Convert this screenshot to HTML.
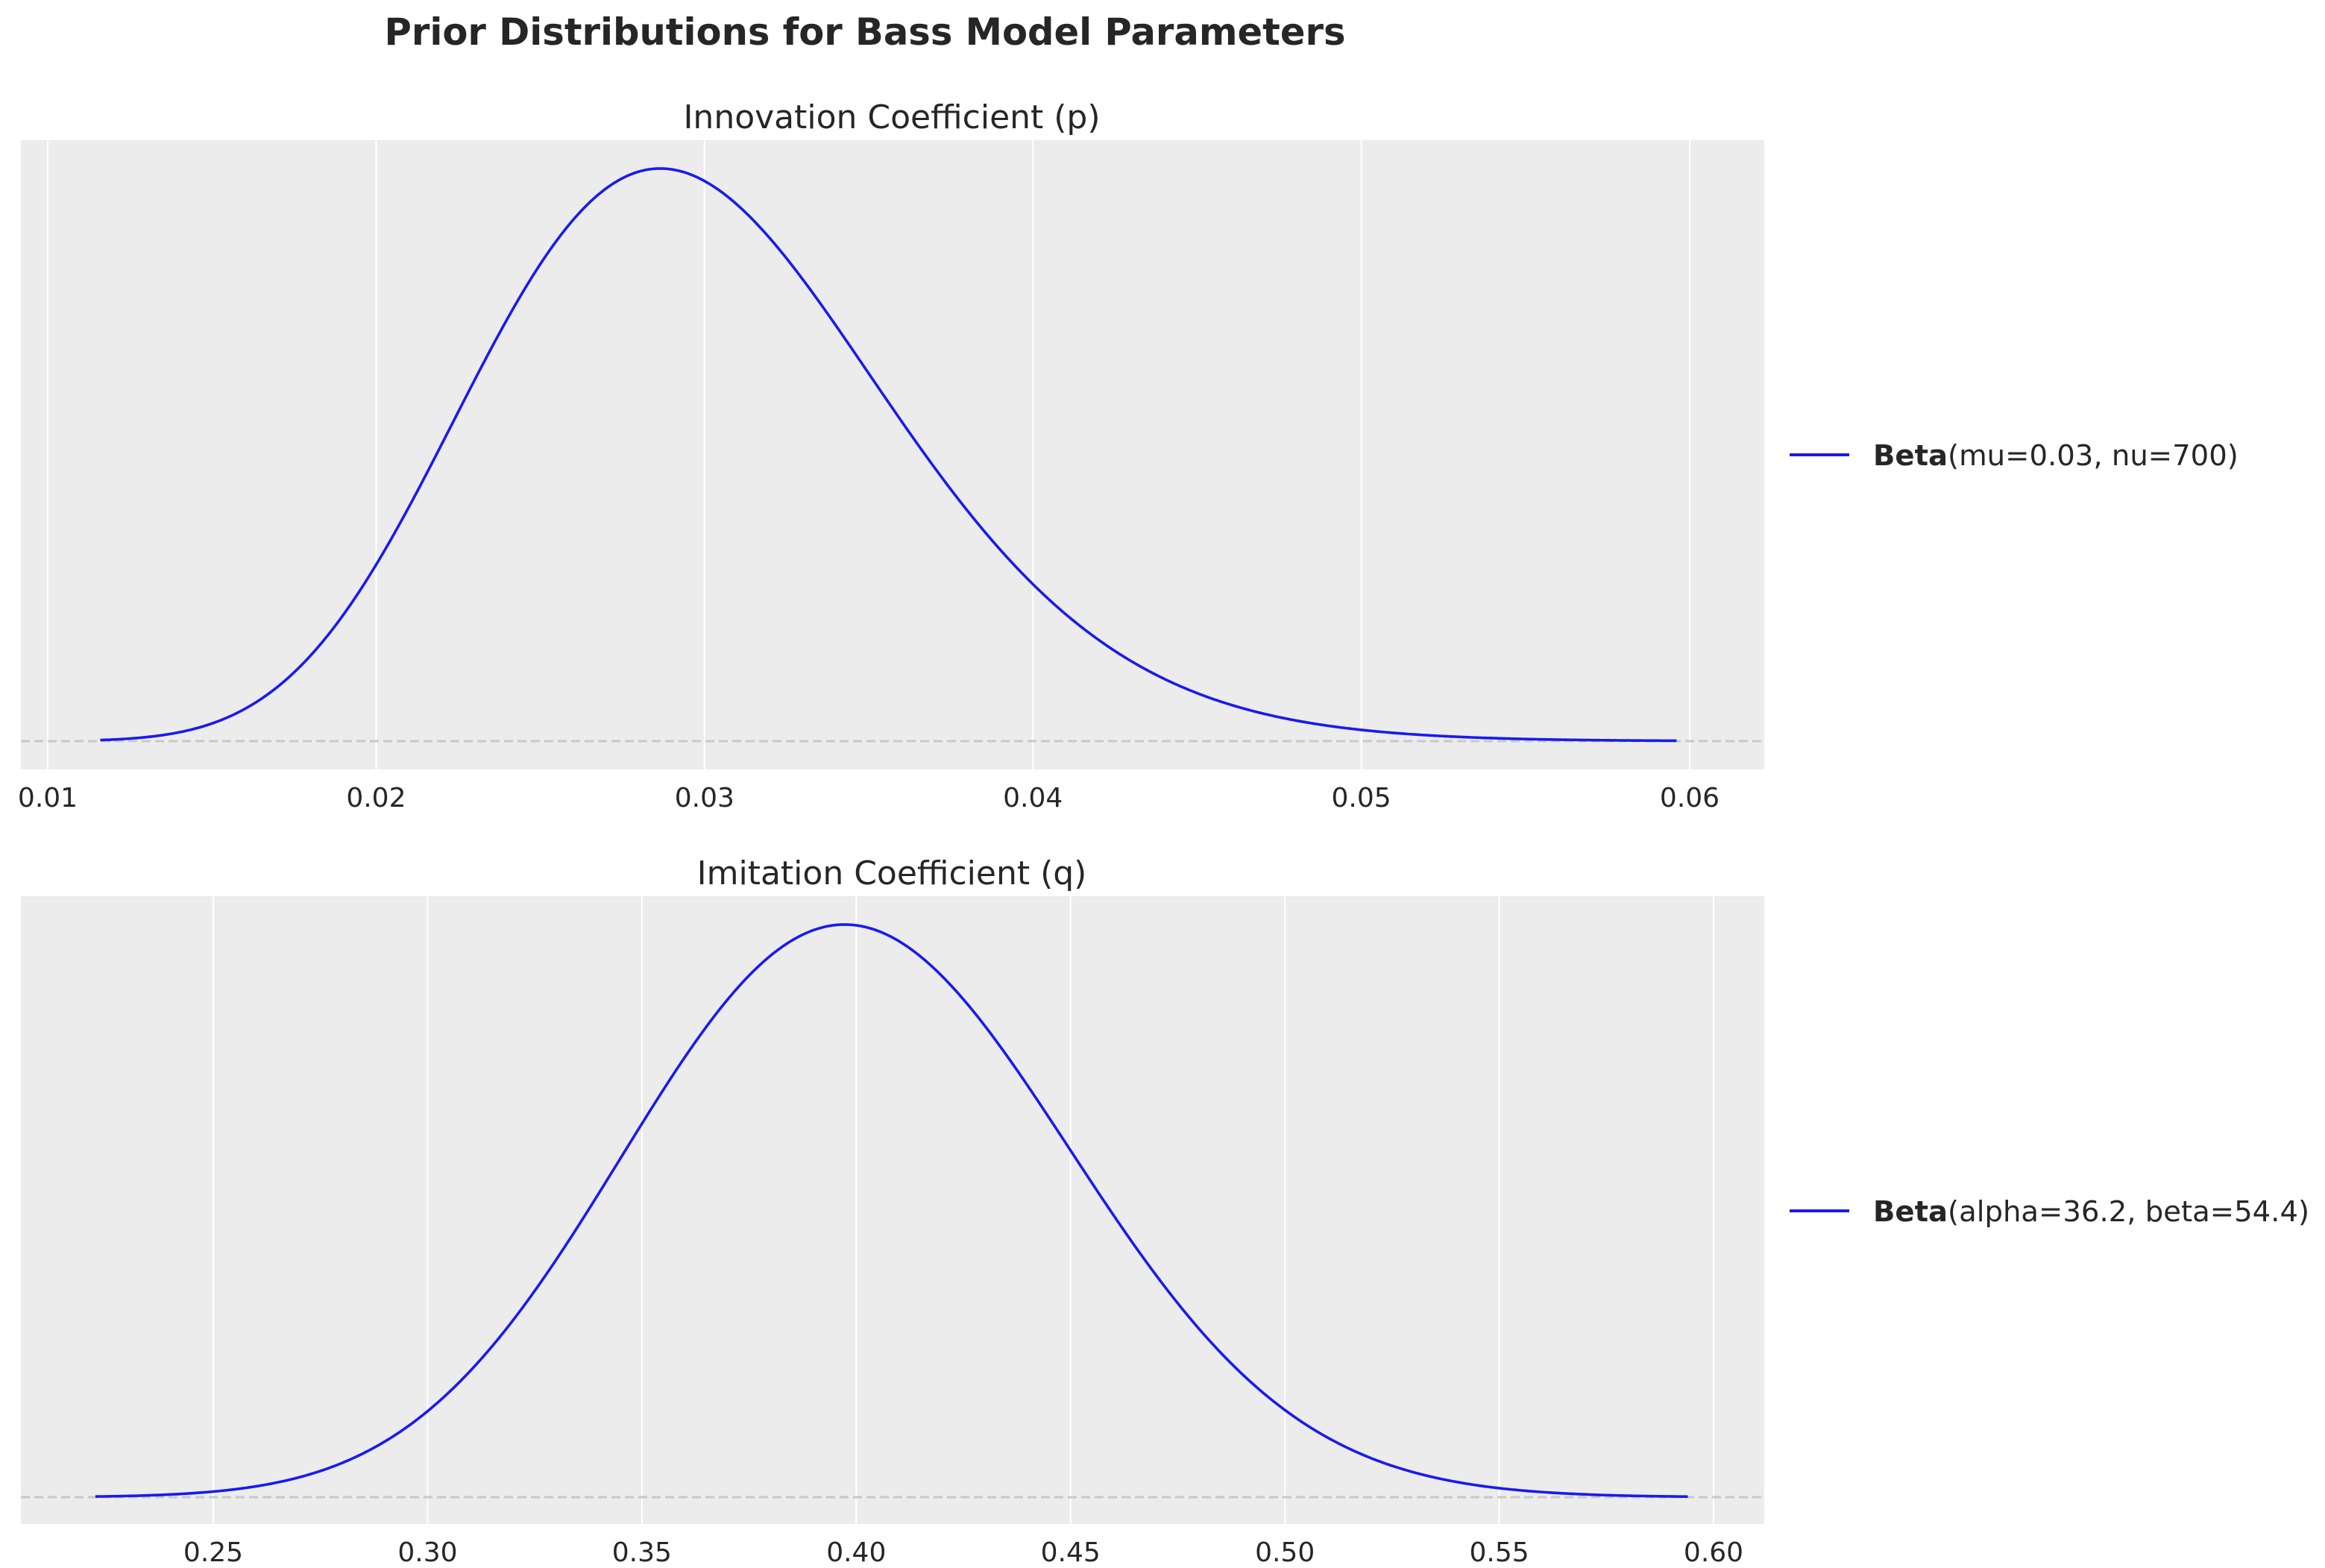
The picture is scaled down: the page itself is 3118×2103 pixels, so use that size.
<!DOCTYPE html>
<html><head><meta charset="utf-8"><style>
html,body{margin:0;padding:0;background:#fff}
svg{display:block}
text{font-family:"DejaVu Sans","Liberation Sans",sans-serif;fill:#262626}
</style></head><body>
<svg id="s" width="3118" height="2103" viewBox="0 0 1559 1051.5" xmlns="http://www.w3.org/2000/svg">
<text x="580" y="30" font-size="24.8" font-weight="bold" text-anchor="middle">Prior Distributions for Bass Model Parameters</text>
<rect x="14" y="94" width="1169" height="422" fill="#ececec"/>
<rect x="14" y="601" width="1169" height="421" fill="#ececec"/>
<text x="598" y="86" font-size="22" text-anchor="middle">Innovation Coefficient (p)</text>
<text x="598" y="593" font-size="22" text-anchor="middle">Imitation Coefficient (q)</text>
<g id="g1"></g><g id="g2"></g>
<line x1="14" x2="1183" y1="497" y2="497" stroke="#c8c8c8" stroke-width="1.5" stroke-dasharray="6,3"/>
<line x1="14" x2="1183" y1="1004" y2="1004" stroke="#c8c8c8" stroke-width="1.5" stroke-dasharray="6,3"/>
<path id="c1" fill="none" stroke="#1a1aee" stroke-width="1.8"/>
<path id="c2" fill="none" stroke="#1a1aee" stroke-width="1.8"/>
<line x1="1200" x2="1240" y1="305" y2="305" stroke="#1a1aee" stroke-width="2"/>
<text x="1256" y="312" font-size="19.3"><tspan font-weight="bold">Beta</tspan>(mu=0.03, nu=700)</text>
<line x1="1200" x2="1240" y1="812" y2="812" stroke="#1a1aee" stroke-width="2"/>
<text x="1256" y="819" font-size="19.3"><tspan font-weight="bold">Beta</tspan>(alpha=36.2, beta=54.4)</text>
</svg>
<script>
var NS="http://www.w3.org/2000/svg";
function grid(g,ticks,fx,y0,y1,fmt){
 var el=document.getElementById(g);
 ticks.forEach(function(t){var x=fx(t);
  var l=document.createElementNS(NS,"line");l.setAttribute("x1",x);l.setAttribute("x2",x);l.setAttribute("y1",y0);l.setAttribute("y2",y1);l.setAttribute("stroke","#fff");l.setAttribute("stroke-width","1");el.appendChild(l);
  var tx=document.createElementNS(NS,"text");tx.setAttribute("x",x);tx.setAttribute("y",y1+25);tx.setAttribute("font-size","18");tx.setAttribute("text-anchor","middle");tx.textContent=fmt(t);el.appendChild(tx);});
}
var f1=function(v){return 32+(v-0.01)*22020;};
var f2=function(v){return 143+(v-0.25)*2874.3;};
grid("g1",[0.01,0.02,0.03,0.04,0.05,0.06],f1,94,516,function(t){return t.toFixed(2)});
grid("g2",[0.25,0.30,0.35,0.40,0.45,0.50,0.55,0.60],f2,601,1022,function(t){return t.toFixed(2)});
function curve(id,a,b,lo,hi,fx,base,peak){
 var m=(a-1)/(a+b-2),lm=(a-1)*Math.log(m)+(b-1)*Math.log(1-m),d="";
 for(var i=0;i<=600;i++){var x=lo+(hi-lo)*i/600;var v=Math.exp((a-1)*Math.log(x)+(b-1)*Math.log(1-x)-lm);
  d+=(i?"L":"M")+fx(x).toFixed(2)+","+(base-(base-peak)*v).toFixed(2);}
 document.getElementById(id).setAttribute("d",d);
}
curve("c1",21,679,0.0116,0.0596,f1,497,113);
curve("c2",36.2,54.4,0.2225,0.594,f2,1004,620);
</script>
</body></html>
